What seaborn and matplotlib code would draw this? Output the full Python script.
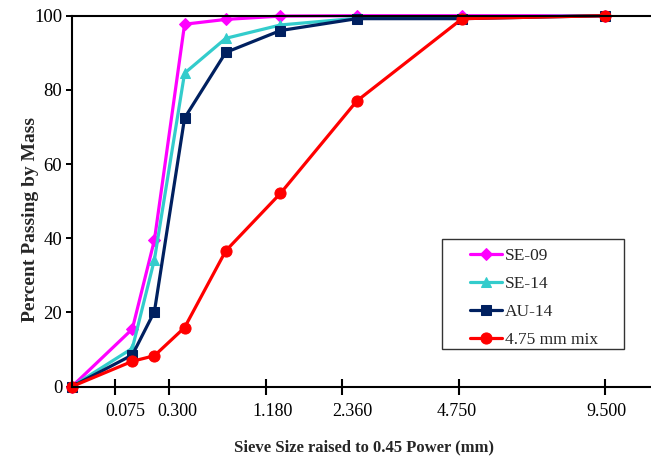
import numpy as np
import pandas as pd
import matplotlib
matplotlib.use("Agg")
import matplotlib.pyplot as plt
import seaborn as sns
from matplotlib.patches import Rectangle
from matplotlib.ticker import FixedLocator, NullFormatter

# ---------------- data ----------------
sieve_mm = [0.0, 0.075, 0.15, 0.3, 0.6, 1.18, 2.36, 4.75, 9.5]
se09 = [0.0, 15.5, 39.5, 97.7, 99.0, 99.9, 100.0, 100.0, 100.0]
se14 = [0.0, 10.3, 34.2, 84.5, 93.9, 97.5, 99.3, 99.5, 100.0]
au14 = [0.0, 8.5, 20.2, 72.4, 90.1, 96.0, 99.2, 99.2, 100.0]
mix475 = [0.0, 6.8, 8.3, 15.9, 36.6, 52.1, 77.0, 99.2, 100.0]
series_names = ["SE-09", "SE-14", "AU-14", "4.75 mm mix"]
series_values = [se09, se14, au14, mix475]
power = 0.45

tick_labels = ["0.075", "0.300", "1.180", "2.360", "4.750", "9.500"]
# tick-mark positions and label positions on the transformed axis (as drawn in the original)
tick_mark_pos = [0.222, 0.501, 1.005, 1.395, 2.000, 2.752]
tick_label_pos = [0.274, 0.544, 1.038, 1.451, 1.986, 2.762]
y_ticks = [0, 20, 40, 60, 80, 100]

# ---------------- style ----------------
colors = ["#FF00FF", "#33CCCC", "#002060", "#FF0000"]
markers = ["D", "^", "s", "o"]
msizes = [6.0, 7.5, 7.2, 8.0]

sns.set_style("white")
plt.rcParams["font.family"] = ["Liberation Serif", "DejaVu Serif"]

W, H = 651, 457
fig = plt.figure(figsize=(W / 100, H / 100), dpi=100)
x0, x1, ytop, ybot = 72, 651, 15.7, 386.5
ax = fig.add_axes([x0 / W, (H - ybot) / H, (x1 - x0) / W, (ybot - ytop) / H])

rows = []
for name, vals in zip(series_names, series_values):
    for s, v in zip(sieve_mm, vals):
        rows.append({"mix": name, "x": s ** power, "y": v})
df = pd.DataFrame(rows)

for name, c, m, ms in zip(series_names, colors, markers, msizes):
    sub = df[df["mix"] == name]
    sns.lineplot(data=sub, x="x", y="y", ax=ax, color=c, marker=m, markersize=ms,
                 markeredgecolor=c, markerfacecolor=c, linewidth=2.3, label=name,
                 clip_on=False, estimator=None, sort=False)

px_per_unit = (605.0 - x0) / (9.5 ** power)
ax.set_xlim(0, (x1 - x0) / px_per_unit)
ax.set_ylim(0, 100)

# x ticks: marks (minor) and labels (major)
ax.xaxis.set_major_locator(FixedLocator(tick_label_pos))
ax.set_xticklabels(tick_labels)
ax.xaxis.set_minor_locator(FixedLocator(tick_mark_pos))
ax.xaxis.set_minor_formatter(NullFormatter())
ax.tick_params(axis="x", which="major", length=0, pad=12, labelsize=13, colors="black")
ax.tick_params(axis="x", which="minor", direction="inout", length=11, width=1.5,
               color="black", bottom=True)
ax.set_yticks(y_ticks)
ax.tick_params(axis="y", which="major", direction="out", length=4, width=1.4,
               pad=3, labelsize=13.5, left=True, colors="black")

for side in ["left", "bottom", "top"]:
    ax.spines[side].set_visible(True)
    ax.spines[side].set_color("black")
    ax.spines[side].set_linewidth(1.5)
ax.spines["right"].set_visible(False)

ax.set_xlabel("Sieve Size raised to 0.45 Power (mm)", fontsize=12, fontweight="bold",
              labelpad=0)
ax.xaxis.set_label_coords((364.5 - x0) / (x1 - x0), -(447 - ybot) / (ybot - ytop))
ax.xaxis.label.set_va("center")
ax.set_ylabel("Percent Passing by Mass", fontsize=14, fontweight="bold")
ax.yaxis.set_label_coords((31.0 - x0) / (x1 - x0), (ybot - 219.0) / (ybot - ytop))
ax.yaxis.label.set_va("center")

# legend
leg = ax.legend(loc="center",
                bbox_to_anchor=((533.9 - x0) / (x1 - x0), (ybot - 298) / (ybot - ytop)),
                frameon=False, fontsize=12.5, handlelength=1.85, handletextpad=0.15,
                labelspacing=0.68, borderpad=0)
ax.add_patch(Rectangle(((442 - x0) / (x1 - x0), (ybot - 349) / (ybot - ytop)),
                       (624 - 442) / (x1 - x0), (349 - 239) / (ybot - ytop),
                       transform=ax.transAxes, fill=False, edgecolor="#333333",
                       linewidth=1.0, zorder=5, clip_on=False))

fig.savefig("out.png", dpi=100, facecolor="white")
